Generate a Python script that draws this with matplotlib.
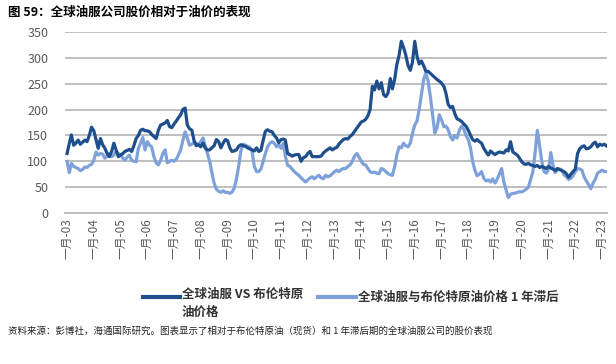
import matplotlib
matplotlib.use("Agg")
import matplotlib.pyplot as plt
from matplotlib.lines import Line2D
import pandas as pd

plt.rcParams['font.family'] = ['Noto Sans CJK SC', 'DejaVu Sans']

title = "图 59：全球油服公司股价相对于油价的表现"
source = "资料来源：彭博社，海通国际研究。图表显示了相对于布伦特原油（现货）和 1 年滞后期的全球油服公司的股价表现"
label_dark = "全球油服 VS 布伦特原\n油价格"
label_light = "全球油服与布伦特原油价格 1 年滞后"

start_month = "2003-01-01"

# 全球油服 VS 布伦特原油价格 (monthly, Jan 2003 - Mar 2023)
dark = [
    115, 135, 151, 131, 135, 141, 133, 137, 141, 138, 150, 166,   # 2003
    159, 141, 125, 144, 132, 125, 115, 109, 119, 135, 122, 109,   # 2004
    112, 115, 119, 121, 123, 119, 130, 144, 150, 160, 162, 159,   # 2005
    159, 157, 152, 148, 144, 160, 170, 172, 174, 179, 167, 165,   # 2006
    172, 178, 184, 190, 200, 203, 170, 163, 160, 140, 130, 132,   # 2007
    128, 135, 126, 122, 122, 126, 130, 142, 138, 126, 135, 142,   # 2008
    140, 126, 119, 120, 122, 129, 132, 130, 129, 126, 124, 122,   # 2009
    120, 126, 119, 121, 140, 158, 161, 158, 157, 150, 145, 136,   # 2010
    142, 143, 141, 115, 113, 110, 112, 113, 113, 100, 107, 109,   # 2011
    115, 119, 109, 109, 109, 109, 110, 116, 120, 123, 126, 122,   # 2012
    125, 127, 133, 138, 142, 144, 143, 148, 152, 158, 164, 170,   # 2013
    176, 178, 181, 188, 200, 245, 238, 255, 240, 252, 229, 225,   # 2014
    232, 260, 240, 258, 287, 305, 332, 320, 305, 285, 276, 292,   # 2015
    332, 303, 288, 294, 285, 274, 274, 270, 266, 262, 258, 255,   # 2016
    251, 245, 232, 210, 204, 206, 192, 182, 180, 177, 172, 168,   # 2017
    160, 150, 142, 139, 142, 138, 135, 125, 118, 112, 120, 116,   # 2018
    113, 116, 118, 117, 116, 122, 120, 138, 118, 115, 112, 106,   # 2019
    99, 95, 94, 96, 93, 92, 90, 92, 88, 90, 88, 86,               # 2020
    90, 87, 85, 82, 86, 84, 82, 80, 76, 69, 75, 80,               # 2021
    85, 115, 124, 128, 130, 124, 125, 128, 134, 137, 128, 133,    # 2022
    131, 133, 130,                                                # 2023
]

# 全球油服与布伦特原油价格 1 年滞后 (monthly, Jan 2003 - Mar 2023)
light = [
    100, 78, 96, 90, 88, 86, 82, 84, 89, 88, 92, 94,              # 2003
    102, 118, 112, 115, 114, 106, 110, 115, 109, 112, 119, 115,   # 2004
    113, 106, 102, 108, 112, 102, 100, 99, 125, 135, 146, 122,    # 2005
    138, 131, 128, 109, 97, 93, 102, 115, 122, 97, 100, 102,      # 2006
    100, 104, 112, 122, 140, 157, 145, 131, 133, 136, 135, 132,   # 2007
    138, 145, 130, 115, 100, 78, 58, 46, 42, 40, 43, 40,          # 2008
    40, 38, 40, 48, 65, 90, 120, 133, 131, 129, 127, 120,         # 2009
    90, 80, 80, 85, 100, 115, 128, 135, 138, 135, 128, 132,       # 2010
    125, 135, 110, 92, 90, 85, 80, 76, 73, 68, 64, 60,            # 2011
    64, 68, 70, 66, 70, 73, 68, 66, 73, 70, 72, 76,               # 2012
    80, 83, 80, 84, 86, 86, 90, 93, 100, 110, 115, 108,           # 2013
    100, 94, 93, 86, 80, 78, 79, 77, 76, 86, 84, 80,              # 2014
    76, 74, 73, 89, 112, 128, 126, 135, 130, 128, 135, 154,       # 2015
    170, 178, 200, 230, 258, 271, 255, 225, 190, 155, 165, 190,   # 2016
    180, 167, 168, 161, 148, 141, 150, 145, 160, 168, 162, 150,   # 2017
    142, 125, 100, 83, 72, 75, 80, 67, 62, 64, 60, 66,            # 2018
    58, 66, 75, 86, 60, 45, 30, 36, 38, 38, 40, 41,               # 2019
    41, 43, 46, 50, 65, 80, 116, 160, 130, 99, 80, 77,            # 2020
    84, 117, 93, 78, 83, 85, 83, 74, 70, 65, 67, 72,              # 2021
    80, 86, 85, 83, 70, 62, 55, 47, 58, 65, 77, 80,               # 2022
    83, 80, 80,                                                   # 2023
]

y_ticks = [0, 50, 100, 150, 200, 250, 300, 350]
tick_years = list(range(2003, 2024))

dark_color = "#1F4E8C"
light_color = "#7EA1DA"
grid_color = "#BFBFBF"
text_color = "#595959"

dates = pd.date_range(start_month, periods=len(dark), freq="MS")

fig = plt.figure(figsize=(6.16, 3.64), dpi=100)
ax = fig.add_axes([65/616, 1-213/364, (607-65)/616, (213-32)/364])

ax.plot(dates, dark, color=dark_color, lw=2.3, solid_joinstyle="round", zorder=3)
ax.plot(dates, light, color=light_color, lw=2.3, solid_joinstyle="round", zorder=2)

ax.set_ylim(0, 350)
ax.set_yticks(y_ticks)
ax.yaxis.grid(True, color=grid_color, lw=1.4)
ax.set_axisbelow(True)
for s in ["left", "right", "top"]:
    ax.spines[s].set_visible(False)
ax.spines["bottom"].set_color(grid_color)
ax.spines["bottom"].set_linewidth(1.4)

tick_dates = [pd.Timestamp(f"{y}-01-01") for y in tick_years]
ax.set_xticks(tick_dates)
ax.set_xticklabels([f"一月-{y % 100:02d}" for y in tick_years], rotation=90,
                   fontsize=8.5, color=text_color)
ax.set_xlim(pd.Timestamp("2002-12-04"), pd.Timestamp("2023-03-10"))
ax.tick_params(axis="x", length=0, pad=4)
ax.tick_params(axis="y", length=0, pad=12, labelsize=9, labelcolor=text_color)

fig.text(8/616, 1-6/364, title, fontsize=9, fontweight="bold", va="top", ha="left", color="#000000")

# legend drawn in figure coordinates
ly1 = 1 - 297/364
fig.add_artist(Line2D([143/616, 180/616], [ly1, ly1], color=dark_color, lw=3))
fig.text(182/616, 1 - 288/364, label_dark, fontsize=9, fontweight="bold", va="top", ha="left",
         color="#333333", linespacing=1.45)
fig.add_artist(Line2D([318/616, 356/616], [ly1, ly1], color=light_color, lw=3))
fig.text(358/616, ly1, label_light, fontsize=9, fontweight="bold", va="center", ha="left",
         color="#333333")

fig.text(8/616, 1-331/364, source, fontsize=6.8, va="center", ha="left", color="#222222")

fig.savefig("out.png", dpi=100)
